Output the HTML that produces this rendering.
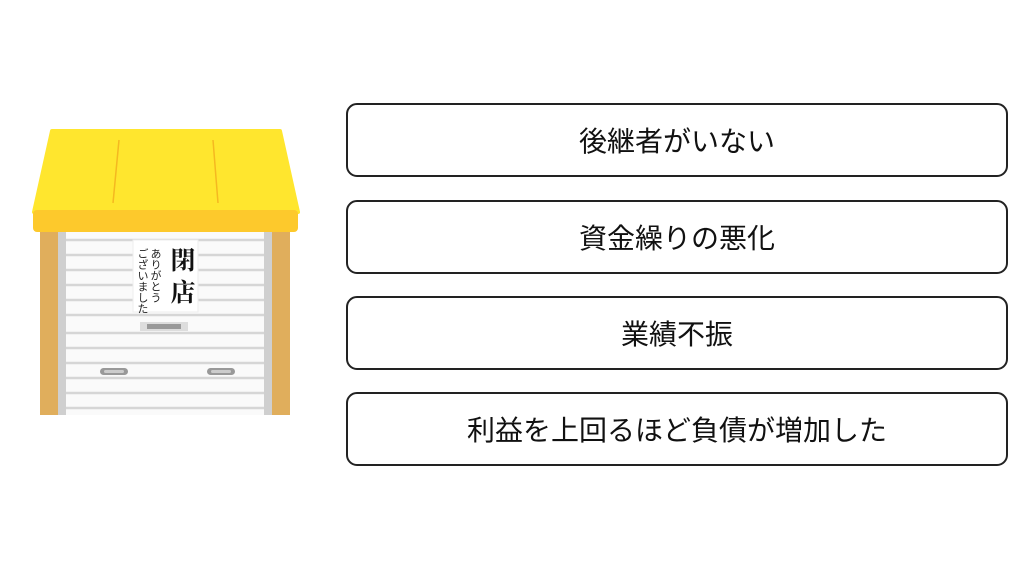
<!DOCTYPE html>
<html><head><meta charset="utf-8"><style>
body{margin:0;width:1024px;height:576px;background:#fff;position:relative;overflow:hidden;font-family:"Liberation Sans","Noto Sans CJK JP",sans-serif}
.b{position:absolute;left:346px;width:658px;height:70px;border:2px solid #222;border-radius:11px;display:flex;align-items:center;justify-content:center;font-size:28px;color:#111;font-weight:normal}
.a{position:absolute}
</style></head><body>
<svg class="a" style="left:0;top:0" width="320" height="440">
<polygon points="52,131 280,131 298,212 34,212" fill="#ffe62e" stroke="#ffe62e" stroke-width="4" stroke-linejoin="round"/>
<line x1="119" y1="140" x2="113" y2="203" stroke="#f5b820" stroke-width="1.5"/>
<line x1="213" y1="140" x2="218" y2="203" stroke="#f5b820" stroke-width="1.5"/>
<rect x="40" y="230" width="18" height="185" fill="#e0ae5c"/>
<rect x="272" y="230" width="18" height="185" fill="#e0ae5c"/>
<rect x="58" y="230" width="8" height="185" fill="#cfcfcf"/>
<rect x="264" y="230" width="8" height="185" fill="#cfcfcf"/>
<rect x="66" y="230" width="198" height="185" fill="#fafafa"/>
<g stroke="#d6d6d6" stroke-width="2.5">
<line x1="66" y1="240" x2="264" y2="240"/><line x1="66" y1="255" x2="264" y2="255"/><line x1="66" y1="270" x2="264" y2="270"/><line x1="66" y1="285" x2="264" y2="285"/><line x1="66" y1="300" x2="264" y2="300"/><line x1="66" y1="315" x2="264" y2="315"/><line x1="66" y1="333" x2="264" y2="333"/><line x1="66" y1="348" x2="264" y2="348"/><line x1="66" y1="363" x2="264" y2="363"/><line x1="66" y1="378" x2="264" y2="378"/><line x1="66" y1="393" x2="264" y2="393"/><line x1="66" y1="408" x2="264" y2="408"/>
</g>
<rect x="33" y="210" width="265" height="22" rx="4" fill="#fdc92c"/>
<rect x="133" y="240" width="65" height="72" fill="#fff" stroke="#eee"/>
<text x="183" y="269" font-size="25" font-weight="bold" font-family="Noto Serif CJK SC,serif" text-anchor="middle" fill="#111">閉</text>
<text x="183" y="301" font-size="25" font-weight="bold" font-family="Noto Serif CJK SC,serif" text-anchor="middle" fill="#111">店</text>
<text x="156" y="248" font-size="11" fill="#222" style="writing-mode:vertical-rl" font-family="Noto Sans CJK JP">ありがとう</text>
<text x="143" y="248" font-size="11" fill="#222" style="writing-mode:vertical-rl" font-family="Noto Sans CJK JP">ございました</text>
<rect x="140" y="322" width="48" height="9" fill="#ddd"/><rect x="147" y="324" width="34" height="5" fill="#999"/>
<rect x="100" y="368" width="28" height="7" rx="3.5" fill="#999"/><rect x="104" y="370" width="20" height="3" rx="1.5" fill="#ccc"/>
<rect x="207" y="368" width="28" height="7" rx="3.5" fill="#999"/><rect x="211" y="370" width="20" height="3" rx="1.5" fill="#ccc"/>
</svg>
<div class="b" style="top:103px">後継者がいない</div>
<div class="b" style="top:200px">資金繰りの悪化</div>
<div class="b" style="top:296px">業績不振</div>
<div class="b" style="top:392px">利益を上回るほど負債が増加した</div>
</body></html>
